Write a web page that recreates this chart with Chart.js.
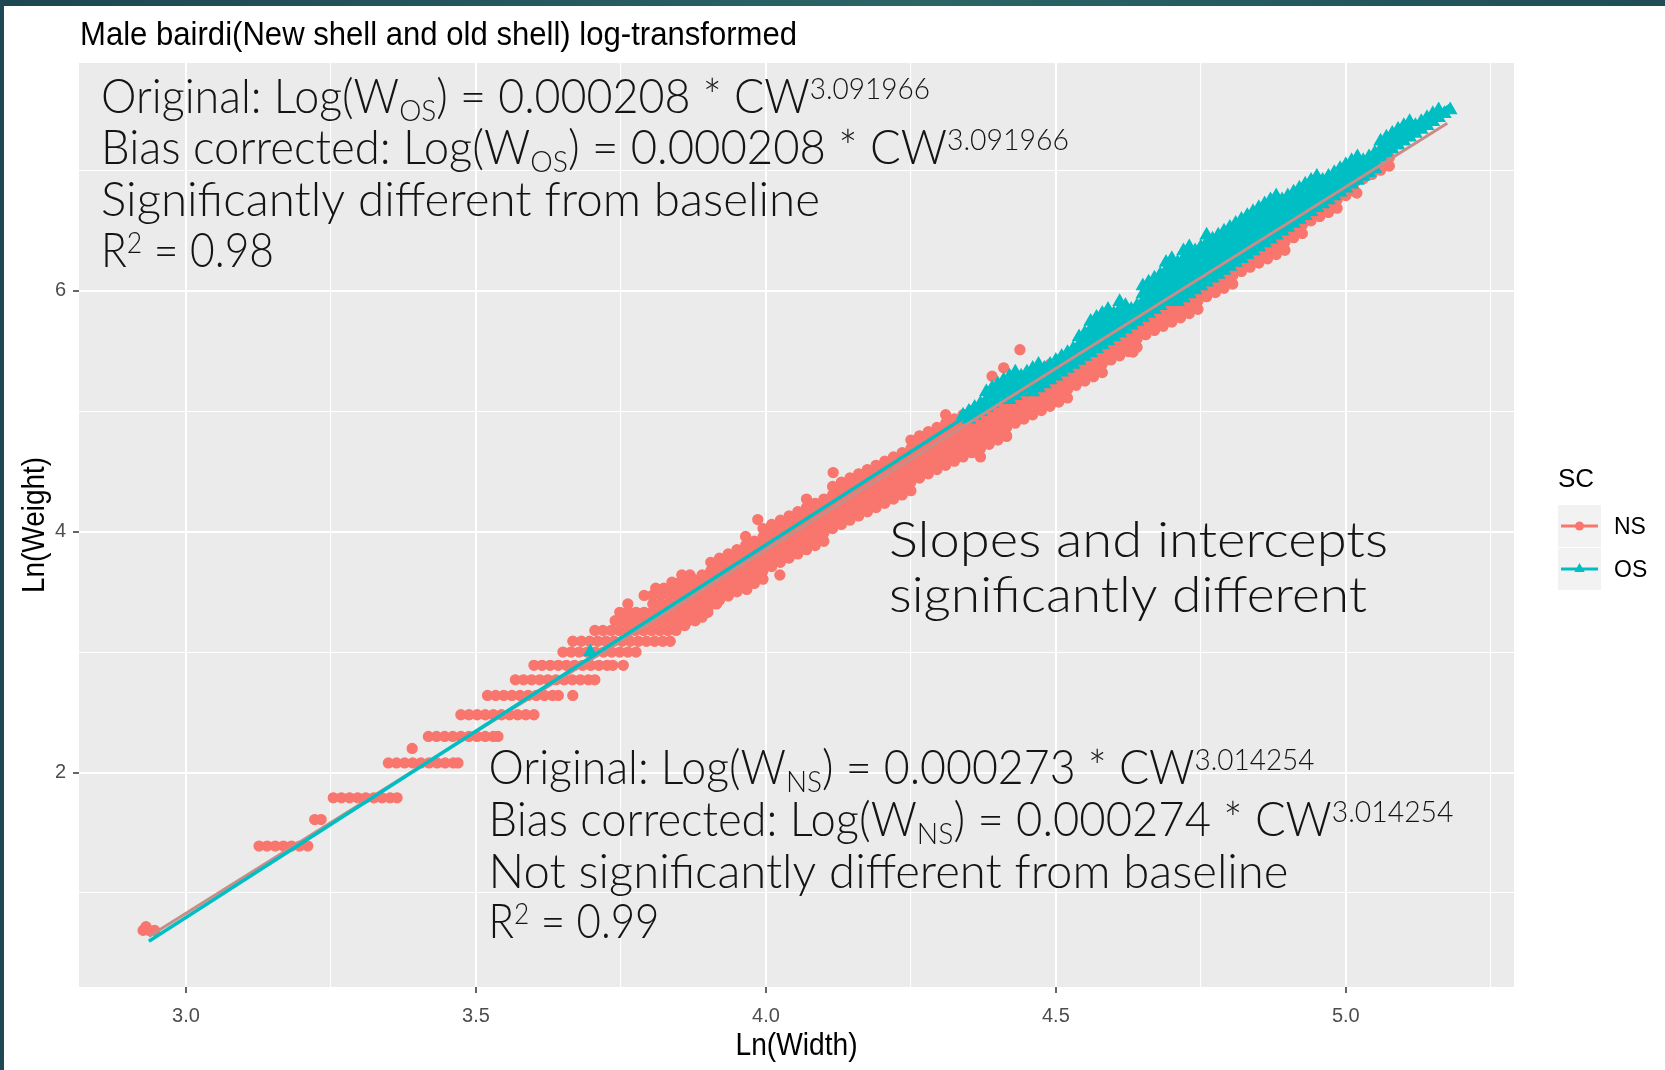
<!DOCTYPE html>
<html>
<head>
<meta charset="utf-8">
<title>Male bairdi log-transformed</title>
<script src="https://cdn.jsdelivr.net/npm/chart.js@4.4.1/dist/chart.umd.min.js"></script>
<style>
  html, body { margin: 0; padding: 0; background: #ffffff; }
  #wrap { width: 1665px; height: 1070px; }
</style>
</head>
<body>
<div id="wrap"><canvas id="chart" width="1665" height="1070"></canvas></div>
<script>
// ---- data: ln(carapace width) vs ln(weight), new shell (NS) and old shell (OS) males ----

const seriesNames = ['NS', 'OS'];

// small NS crabs: weights recorded in 2 g steps, so they fall on rows [lnW, lnCW...]
const nsRows = [
  [0.69, 2.926, 2.936, 2.946],
  [1.39, 3.126, 3.140, 3.154, 3.168, 3.182, 3.196, 3.210],
  [1.61, 3.222, 3.233],
  [1.79, 3.254, 3.268, 3.282, 3.296, 3.310, 3.324, 3.338, 3.352, 3.364],
  [2.08, 3.349, 3.363, 3.377, 3.391, 3.405, 3.419, 3.433, 3.447, 3.461, 3.469],
  [2.30, 3.418, 3.432, 3.446, 3.460, 3.474, 3.488, 3.502, 3.516, 3.530, 3.538],
  [2.48, 3.474, 3.488, 3.502, 3.516, 3.530, 3.544, 3.558, 3.572, 3.586, 3.600],
  [2.64, 3.520, 3.534, 3.548, 3.562, 3.576, 3.590, 3.604, 3.618, 3.632, 3.642],
  [2.77, 3.568, 3.582, 3.596, 3.610, 3.624, 3.638, 3.652, 3.666, 3.680, 3.694, 3.705],
  [2.89, 3.600, 3.614, 3.628, 3.642, 3.656, 3.670, 3.684, 3.698, 3.712, 3.726, 3.736],
  [3.00, 3.650, 3.664, 3.678, 3.692, 3.706, 3.720, 3.734, 3.748, 3.762, 3.776],
  [3.09, 3.682, 3.696, 3.710, 3.724, 3.738, 3.752, 3.766, 3.780, 3.794, 3.808, 3.822, 3.835],
  [3.18, 3.705, 3.719, 3.733, 3.747, 3.761, 3.775, 3.789, 3.803, 3.817, 3.831, 3.845],
  [3.26, 3.740, 3.754, 3.768, 3.782, 3.796, 3.810, 3.824, 3.838, 3.852, 3.866, 3.878],
  [3.33, 3.748, 3.762, 3.776, 3.790, 3.804, 3.818, 3.832, 3.846, 3.860, 3.874, 3.888, 3.900],
  [3.40, 3.805, 3.819, 3.833, 3.847, 3.861, 3.875, 3.889, 3.903, 3.915],
  [3.47, 3.790, 3.804, 3.818, 3.832, 3.846, 3.860, 3.874],
  [3.53, 3.810, 3.824, 3.838, 3.852, 3.866],
  [3.58, 3.838, 3.852, 3.866],
  [3.64, 3.855, 3.869]
];

// larger NS crabs, one column per width: [lnCW, lnW...]
const nsCols = [
  [3.860, 3.22, 3.29, 3.36, 3.43, 3.50, 3.57],
  [3.875, 3.325, 3.395, 3.465, 3.535, 3.605],
  [3.890, 3.29, 3.36, 3.43, 3.50, 3.57, 3.64],
  [3.905, 3.395, 3.465, 3.535, 3.605, 3.675, 3.745],
  [3.920, 3.43, 3.50, 3.57, 3.64, 3.71, 3.78],
  [3.935, 3.465, 3.535, 3.605, 3.675, 3.745, 3.815],
  [3.950, 3.50, 3.57, 3.64, 3.71, 3.78, 3.85],
  [3.965, 3.535, 3.605, 3.675, 3.745, 3.815, 3.885, 3.96],
  [3.980, 3.57, 3.64, 3.71, 3.78, 3.85, 3.92],
  [3.995, 3.605, 3.675, 3.745, 3.815, 3.885, 3.955, 4.025],
  [4.010, 3.71, 3.78, 3.85, 3.92, 3.99, 4.06],
  [4.025, 3.745, 3.815, 3.885, 3.955, 4.025, 4.095],
  [4.040, 3.78, 3.85, 3.92, 3.99, 4.06, 4.13],
  [4.055, 3.815, 3.885, 3.955, 4.025, 4.095, 4.165],
  [4.070, 3.85, 3.92, 3.99, 4.06, 4.13, 4.20, 4.27],
  [4.085, 3.885, 3.955, 4.025, 4.095, 4.165, 4.235],
  [4.100, 3.92, 3.99, 4.06, 4.13, 4.20, 4.27],
  [4.115, 4.025, 4.095, 4.165, 4.235, 4.305, 4.375],
  [4.130, 4.06, 4.13, 4.20, 4.27, 4.34, 4.41],
  [4.145, 4.095, 4.165, 4.235, 4.305, 4.375, 4.445],
  [4.160, 4.13, 4.20, 4.27, 4.34, 4.41, 4.48],
  [4.175, 4.165, 4.235, 4.305, 4.375, 4.445, 4.515],
  [4.190, 4.20, 4.27, 4.34, 4.41, 4.48, 4.55],
  [4.205, 4.235, 4.305, 4.375, 4.445, 4.515, 4.585],
  [4.220, 4.27, 4.34, 4.41, 4.48, 4.55, 4.62],
  [4.235, 4.305, 4.375, 4.445, 4.515, 4.585, 4.655],
  [4.250, 4.34, 4.41, 4.48, 4.55, 4.62, 4.69, 4.76],
  [4.265, 4.445, 4.515, 4.585, 4.655, 4.725, 4.795],
  [4.280, 4.48, 4.55, 4.62, 4.69, 4.76, 4.83],
  [4.295, 4.515, 4.585, 4.655, 4.725, 4.795, 4.865],
  [4.310, 4.55, 4.62, 4.69, 4.76, 4.83, 4.90, 4.97],
  [4.325, 4.585, 4.655, 4.725, 4.795, 4.865, 4.935],
  [4.340, 4.62, 4.69, 4.76, 4.83, 4.90, 4.97],
  [4.355, 4.655, 4.725, 4.795, 4.865, 4.935, 5.005],
  [4.370, 4.69, 4.76, 4.83, 4.90, 4.97, 5.04],
  [4.385, 4.725, 4.795, 4.865, 4.935, 5.005, 5.075],
  [4.400, 4.76, 4.83, 4.90, 4.97, 5.04, 5.11],
  [4.415, 4.795, 4.865, 4.935, 5.005, 5.075, 5.145],
  [4.430, 4.90, 4.97, 5.04, 5.11, 5.18],
  [4.445, 4.935, 5.005, 5.075, 5.145, 5.215],
  [4.460, 4.97, 5.04, 5.11, 5.18, 5.25],
  [4.475, 5.005, 5.075, 5.145, 5.215, 5.285, 5.355],
  [4.490, 5.04, 5.11, 5.18, 5.25, 5.32, 5.39],
  [4.505, 5.075, 5.145, 5.215, 5.285, 5.355, 5.425],
  [4.520, 5.11, 5.18, 5.25, 5.32, 5.39, 5.46],
  [4.535, 5.215, 5.285, 5.355, 5.425, 5.495],
  [4.550, 5.25, 5.32, 5.39, 5.46, 5.53],
  [4.565, 5.285, 5.355, 5.425, 5.495, 5.565],
  [4.580, 5.32, 5.39, 5.46, 5.53, 5.60],
  [4.595, 5.425, 5.495, 5.565, 5.635, 5.705],
  [4.610, 5.46, 5.53, 5.60, 5.67, 5.74],
  [4.625, 5.495, 5.565, 5.635, 5.705, 5.775],
  [4.640, 5.53, 5.60, 5.67, 5.74, 5.81],
  [4.655, 5.635, 5.705, 5.775, 5.845],
  [4.670, 5.67, 5.74, 5.81, 5.88],
  [4.685, 5.705, 5.775, 5.845, 5.915],
  [4.700, 5.74, 5.81, 5.88, 5.95, 6.02],
  [4.715, 5.775, 5.845, 5.915, 5.985, 6.055],
  [4.730, 5.81, 5.88, 5.95, 6.02, 6.09],
  [4.745, 5.845, 5.915, 5.985, 6.055, 6.125],
  [4.760, 5.95, 6.02, 6.09, 6.16],
  [4.775, 5.985, 6.055, 6.125, 6.195],
  [4.790, 6.02, 6.09, 6.16, 6.23],
  [4.805, 6.055, 6.125, 6.195, 6.265],
  [4.820, 6.16, 6.23, 6.30, 6.37],
  [4.835, 6.195, 6.265, 6.335, 6.405],
  [4.850, 6.23, 6.30, 6.37, 6.44],
  [4.865, 6.265, 6.335, 6.405, 6.475],
  [4.880, 6.30, 6.37, 6.44, 6.51],
  [4.895, 6.335, 6.405, 6.475, 6.545],
  [4.910, 6.44, 6.51, 6.58, 6.65],
  [4.925, 6.475, 6.545, 6.615, 6.685],
  [4.940, 6.58, 6.65, 6.72],
  [4.955, 6.615, 6.685, 6.755],
  [4.970, 6.65, 6.72, 6.79],
  [4.985, 6.685, 6.755, 6.825],
  [5.000, 6.79, 6.86],
  [5.015, 6.825, 6.895, 6.965],
  [5.030, 6.93, 7.00],
  [5.045, 6.965, 7.035],
  [5.060, 7.00, 7.07],
  [5.075, 7.035, 7.105]
];

// scattered NS crabs away from the main band [lnCW, lnW]
const nsExtra = [
  [2.931, 0.72], [3.390, 2.20], [3.667, 2.64], [3.754, 2.89], [3.667, 3.09],
  [3.762, 3.40], [3.967, 3.52], [3.986, 4.10], [4.024, 3.64], [4.116, 4.49],
  [4.370, 4.62], [4.415, 4.79], [4.390, 5.29], [4.410, 5.36], [4.438, 5.51],
  [4.633, 5.49], [5.019, 6.81]
];

// OS crabs, one column per width: [lnCW, lnW...]
const osCols = [
  [4.34, 4.965],
  [4.35, 4.998, 4.933],
  [4.36, 5.030, 4.965],
  [4.37, 5.063, 4.998],
  [4.38, 5.160, 5.095, 5.030],
  [4.39, 5.193, 5.128, 5.063],
  [4.40, 5.225, 5.160, 5.095],
  [4.41, 5.258, 5.193, 5.128],
  [4.42, 5.290, 5.225, 5.160, 5.095],
  [4.43, 5.323, 5.258, 5.193, 5.128],
  [4.44, 5.290, 5.225, 5.160],
  [4.45, 5.323, 5.258, 5.193],
  [4.46, 5.355, 5.290, 5.225, 5.160],
  [4.47, 5.388, 5.323, 5.258, 5.193],
  [4.48, 5.355, 5.290, 5.225],
  [4.49, 5.388, 5.323, 5.258],
  [4.50, 5.420, 5.355, 5.290],
  [4.51, 5.453, 5.388, 5.323],
  [4.52, 5.485, 5.420, 5.355],
  [4.53, 5.518, 5.453, 5.388],
  [4.54, 5.615, 5.550, 5.485, 5.420],
  [4.55, 5.648, 5.583, 5.518, 5.453],
  [4.56, 5.745, 5.680, 5.615, 5.550, 5.485],
  [4.57, 5.778, 5.713, 5.648, 5.583, 5.518],
  [4.58, 5.810, 5.745, 5.680, 5.615, 5.550],
  [4.59, 5.843, 5.778, 5.713, 5.648, 5.583],
  [4.60, 5.810, 5.745, 5.680, 5.615],
  [4.61, 5.908, 5.843, 5.778, 5.713, 5.648],
  [4.62, 5.875, 5.810, 5.745, 5.680],
  [4.63, 5.843, 5.778, 5.713],
  [4.64, 5.875, 5.810, 5.745],
  [4.65, 6.038, 5.973, 5.908, 5.843, 5.778],
  [4.66, 6.070, 6.005, 5.940, 5.875, 5.810],
  [4.67, 6.103, 6.038, 5.973, 5.908, 5.843],
  [4.68, 6.135, 6.070, 6.005, 5.940, 5.875],
  [4.69, 6.233, 6.168, 6.103, 6.038, 5.973, 5.908],
  [4.70, 6.265, 6.200, 6.135, 6.070, 6.005, 5.940],
  [4.71, 6.233, 6.168, 6.103, 6.038, 5.973, 5.908],
  [4.72, 6.330, 6.265, 6.200, 6.135, 6.070, 6.005, 5.940],
  [4.73, 6.363, 6.298, 6.233, 6.168, 6.103, 6.038, 5.973],
  [4.74, 6.330, 6.265, 6.200, 6.135, 6.070, 6.005],
  [4.75, 6.363, 6.298, 6.233, 6.168, 6.103, 6.038],
  [4.76, 6.460, 6.395, 6.330, 6.265, 6.200, 6.135, 6.070],
  [4.77, 6.428, 6.363, 6.298, 6.233, 6.168, 6.103],
  [4.78, 6.460, 6.395, 6.330, 6.265, 6.200, 6.135],
  [4.79, 6.493, 6.428, 6.363, 6.298, 6.233, 6.168],
  [4.80, 6.525, 6.460, 6.395, 6.330, 6.265, 6.200],
  [4.81, 6.558, 6.493, 6.428, 6.363, 6.298, 6.233],
  [4.82, 6.590, 6.525, 6.460, 6.395, 6.330, 6.265],
  [4.83, 6.623, 6.558, 6.493, 6.428, 6.363, 6.298],
  [4.84, 6.655, 6.590, 6.525, 6.460, 6.395, 6.330],
  [4.85, 6.688, 6.623, 6.558, 6.493, 6.428, 6.363],
  [4.86, 6.720, 6.655, 6.590, 6.525, 6.460, 6.395],
  [4.87, 6.753, 6.688, 6.623, 6.558, 6.493, 6.428],
  [4.88, 6.785, 6.720, 6.655, 6.590, 6.525, 6.460],
  [4.89, 6.753, 6.688, 6.623, 6.558, 6.493],
  [4.90, 6.785, 6.720, 6.655, 6.590, 6.525],
  [4.91, 6.818, 6.753, 6.688, 6.623, 6.558],
  [4.92, 6.850, 6.785, 6.720, 6.655, 6.590],
  [4.93, 6.883, 6.818, 6.753, 6.688, 6.623],
  [4.94, 6.915, 6.850, 6.785, 6.720, 6.655],
  [4.95, 6.948, 6.883, 6.818, 6.753, 6.688],
  [4.96, 6.915, 6.850, 6.785, 6.720],
  [4.97, 6.948, 6.883, 6.818, 6.753],
  [4.98, 6.980, 6.915, 6.850, 6.785],
  [4.99, 7.013, 6.948, 6.883, 6.818],
  [5.00, 7.045, 6.980, 6.915, 6.850],
  [5.01, 7.078, 7.013, 6.948, 6.883],
  [5.02, 7.110, 7.045, 6.980, 6.915],
  [5.03, 7.078, 7.013, 6.948],
  [5.04, 7.110, 7.045, 6.980],
  [5.05, 7.143, 7.078, 7.013],
  [5.06, 7.240, 7.175, 7.110],
  [5.07, 7.273, 7.208, 7.143],
  [5.08, 7.305, 7.240, 7.175],
  [5.09, 7.338, 7.273, 7.208],
  [5.10, 7.370, 7.305, 7.240],
  [5.11, 7.403, 7.338, 7.273],
  [5.12, 7.370, 7.305],
  [5.13, 7.403, 7.338],
  [5.14, 7.435, 7.370],
  [5.15, 7.468, 7.403],
  [5.16, 7.500, 7.435],
  [5.17, 7.468],
  [5.18, 7.500]
];

const osExtra = [[3.697, 3.00]];

// fitted lines, end points [lnCW, lnW]
const nsFit = [[2.936, 0.64], [5.175, 7.39]];
const osFit = [[2.936, 0.60], [5.180, 7.54]];

// axis ranges and labelled ticks
const xRange = [2.8155, 5.29];
const yRange = [0.22, 7.89];
const xMajor = [3.0, 3.5, 4.0, 4.5, 5.0];
const yMajor = [2, 4, 6];

// ---- build point lists ----
const toXY = p => ({ x: p[0], y: p[1] });

const nsPoints = [];
nsRows.forEach(r => { for (let i = 1; i < r.length; i++) nsPoints.push({ x: r[i], y: r[0] }); });
nsCols.forEach(c => { for (let i = 1; i < c.length; i++) nsPoints.push({ x: c[0], y: c[i] }); });
nsExtra.forEach(p => nsPoints.push(toXY(p)));

const osPoints = [];
osCols.forEach(c => { for (let i = 1; i < c.length; i++) osPoints.push({ x: c[0], y: c[i] }); });
osExtra.forEach(p => osPoints.push(toXY(p)));

const NS_COL = '#F8766D';
const OS_COL = '#00BFC4';
const NS_LINE = '#C98D89';

const SANS = '"Liberation Sans", Arial, Helvetica, sans-serif';
const NOTE = 'Lato, "Open Sans", "DejaVu Sans", sans-serif';

const isOn = (v, list) => list.some(m => Math.abs(m - v) < 1e-6);

// text with sub/superscript parts, squeezed or stretched to a given width
function drawRich(ctx, parts, x, y, size, width) {
  const fontFor = s => '300 ' + (s ? Math.round(size * 0.62) : size) + 'px ' + NOTE;
  let natural = 0;
  parts.forEach(p => { ctx.font = fontFor(p.s); natural += ctx.measureText(p.t).width; });
  ctx.save();
  ctx.translate(x, y);
  ctx.scale(width / natural, 1);
  let cx = 0;
  parts.forEach(p => {
    ctx.font = fontFor(p.s);
    const dy = p.s === 'sup' ? -size * 0.3 : (p.s === 'sub' ? size * 0.17 : 0);
    ctx.fillText(p.t, cx, dy);
    cx += ctx.measureText(p.t).width;
  });
  ctx.restore();
}

// plain text squeezed to a width; align 'left' or 'center', optional rotation
function drawFitted(ctx, text, x, y, font, width, align, angle) {
  ctx.save();
  ctx.font = font;
  const w = ctx.measureText(text).width;
  ctx.translate(x, y);
  if (angle) ctx.rotate(angle);
  ctx.scale(width / w, 1);
  ctx.fillText(text, align === 'center' ? -w / 2 : 0, 0);
  ctx.restore();
}

const osNote = [
  [{ t: 'Original: Log(W' }, { t: 'OS', s: 'sub' }, { t: ') = 0.000208 * CW' }, { t: '3.091966', s: 'sup' }],
  [{ t: 'Bias corrected: Log(W' }, { t: 'OS', s: 'sub' }, { t: ') = 0.000208 * CW' }, { t: '3.091966', s: 'sup' }],
  [{ t: 'Significantly different from baseline' }],
  [{ t: 'R' }, { t: '2', s: 'sup' }, { t: ' = 0.98' }]
];
const nsNote = [
  [{ t: 'Original: Log(W' }, { t: 'NS', s: 'sub' }, { t: ') = 0.000273 * CW' }, { t: '3.014254', s: 'sup' }],
  [{ t: 'Bias corrected: Log(W' }, { t: 'NS', s: 'sub' }, { t: ') = 0.000274 * CW' }, { t: '3.014254', s: 'sup' }],
  [{ t: 'Not significantly different from baseline' }],
  [{ t: 'R' }, { t: '2', s: 'sup' }, { t: ' = 0.99' }]
];
const midNote = [[{ t: 'Slopes and intercepts' }], [{ t: 'significantly different' }]];

const decor = {
  id: 'decor',
  beforeDraw(chart) {
    const { ctx, chartArea: a, width, height } = chart;
    ctx.save();
    ctx.fillStyle = '#ffffff';
    ctx.fillRect(0, 0, width, height);
    const g = ctx.createLinearGradient(0, 0, width, 0);
    g.addColorStop(0, '#1C4652');
    g.addColorStop(0.55, '#2B6566');
    g.addColorStop(1, '#1E4D55');
    ctx.fillStyle = g;
    ctx.fillRect(0, 0, width, 6);
    ctx.fillStyle = '#1D4854';
    ctx.fillRect(0, 0, 4, height);
    ctx.fillStyle = '#EBEBEB';
    ctx.fillRect(a.left, a.top, a.right - a.left, a.bottom - a.top);
    ctx.restore();
  },
  afterDraw(chart) {
    const ctx = chart.ctx;
    const a = chart.chartArea;
    ctx.save();
    ctx.textBaseline = 'alphabetic';
    ctx.textAlign = 'left';

    // plot title and axis titles
    ctx.fillStyle = '#000000';
    drawFitted(ctx, 'Male bairdi(New shell and old shell) log-transformed', 80, 45, '34px ' + SANS, 717);
    drawFitted(ctx, 'Ln(Width)', (a.left + a.right) / 2, 1055, '31px ' + SANS, 122, 'center');
    drawFitted(ctx, 'Ln(Weight)', 44, (a.top + a.bottom) / 2, '31px ' + SANS, 136, 'center', -Math.PI / 2);

    // model notes
    ctx.fillStyle = '#141414';
    const osBase = [113, 164, 216, 267], osW = [829, 968, 719, 173];
    osNote.forEach((l, i) => drawRich(ctx, l, 101, osBase[i], 48, osW[i]));
    const nsBase = [784, 836, 888, 938], nsW = [826, 965, 800, 171];
    nsNote.forEach((l, i) => drawRich(ctx, l, 488.5, nsBase[i], 48, nsW[i]));
    const midBase = [557, 612], midW = [499, 478];
    midNote.forEach((l, i) => drawRich(ctx, l, 889, midBase[i], 50, midW[i]));

    // legend
    ctx.fillStyle = '#000000';
    ctx.font = '26px ' + SANS;
    ctx.fillText('SC', 1558, 487);
    const cols = [NS_COL, OS_COL];
    seriesNames.forEach((name, i) => {
      const top = 505 + i * 43;
      const cy = top + 21;
      ctx.fillStyle = '#F2F2F2';
      ctx.fillRect(1558, top, 43, 42);
      ctx.strokeStyle = cols[i];
      ctx.lineWidth = 3;
      ctx.beginPath();
      ctx.moveTo(1561, cy);
      ctx.lineTo(1598, cy);
      ctx.stroke();
      ctx.fillStyle = cols[i];
      ctx.beginPath();
      if (i === 0) {
        ctx.arc(1579.5, cy, 4.5, 0, Math.PI * 2);
      } else {
        ctx.moveTo(1579.5, cy - 6);
        ctx.lineTo(1584.7, cy + 3);
        ctx.lineTo(1574.3, cy + 3);
        ctx.closePath();
      }
      ctx.fill();
      ctx.fillStyle = '#000000';
      ctx.font = '23px ' + SANS;
      ctx.fillText(name, 1614, cy + 8);
    });
    ctx.restore();
  }
};

const ctx = document.getElementById('chart').getContext('2d');
const chart = new Chart(ctx, {
  type: 'scatter',
  data: {
    datasets: [
      {
        label: 'OS fit',
        data: osFit.map(toXY),
        showLine: true,
        borderColor: OS_COL,
        borderWidth: 3.5,
        pointRadius: 0,
        order: 0
      },
      {
        label: 'NS fit',
        data: nsFit.map(toXY),
        showLine: true,
        borderColor: NS_LINE,
        borderWidth: 3,
        pointRadius: 0,
        order: 1
      },
      {
        label: seriesNames[1],
        data: osPoints,
        pointStyle: 'triangle',
        pointRadius: 7,
        backgroundColor: OS_COL,
        borderColor: OS_COL,
        borderWidth: 1.5,
        order: 2
      },
      {
        label: seriesNames[0],
        data: nsPoints,
        pointStyle: 'circle',
        pointRadius: 5,
        backgroundColor: NS_COL,
        borderColor: NS_COL,
        borderWidth: 1.3,
        order: 3
      }
    ]
  },
  options: {
    responsive: false,
    animation: false,
    devicePixelRatio: 1,
    events: [],
    layout: { padding: { top: 63, right: 151, bottom: 0, left: 0 } },
    plugins: {
      legend: { display: false },
      tooltip: { enabled: false },
      title: { display: false }
    },
    scales: {
      x: {
        type: 'linear',
        min: xRange[0],
        max: xRange[1],
        afterFit: s => { s.height = 83; },
        border: { display: false },
        grid: {
          color: '#FFFFFF',
          lineWidth: c => (isOn(c.tick.value, xMajor) ? 2 : 1.1),
          tickColor: c => (isOn(c.tick.value, xMajor) ? '#333333' : 'rgba(0,0,0,0)'),
          tickLength: 6,
          tickWidth: 1.5
        },
        ticks: {
          stepSize: 0.25,
          includeBounds: false,
          autoSkip: false,
          maxRotation: 0,
          padding: 11,
          color: '#4D4D4D',
          font: { family: SANS, size: 20 },
          callback: v => (isOn(v, xMajor) ? v.toFixed(1) : '')
        },
        title: { display: false }
      },
      y: {
        type: 'linear',
        min: yRange[0],
        max: yRange[1],
        afterFit: s => { s.width = 79; },
        border: { display: false },
        grid: {
          color: '#FFFFFF',
          lineWidth: c => (isOn(c.tick.value, yMajor) ? 2 : 1.1),
          tickColor: c => (isOn(c.tick.value, yMajor) ? '#333333' : 'rgba(0,0,0,0)'),
          tickLength: 6,
          tickWidth: 1.5
        },
        ticks: {
          stepSize: 1,
          includeBounds: false,
          autoSkip: false,
          padding: 7,
          color: '#4D4D4D',
          font: { family: SANS, size: 20 },
          callback: v => (isOn(v, yMajor) ? String(v) : '')
        },
        title: { display: false }
      }
    }
  },
  plugins: [decor]
});
</script>
</body>
</html>
